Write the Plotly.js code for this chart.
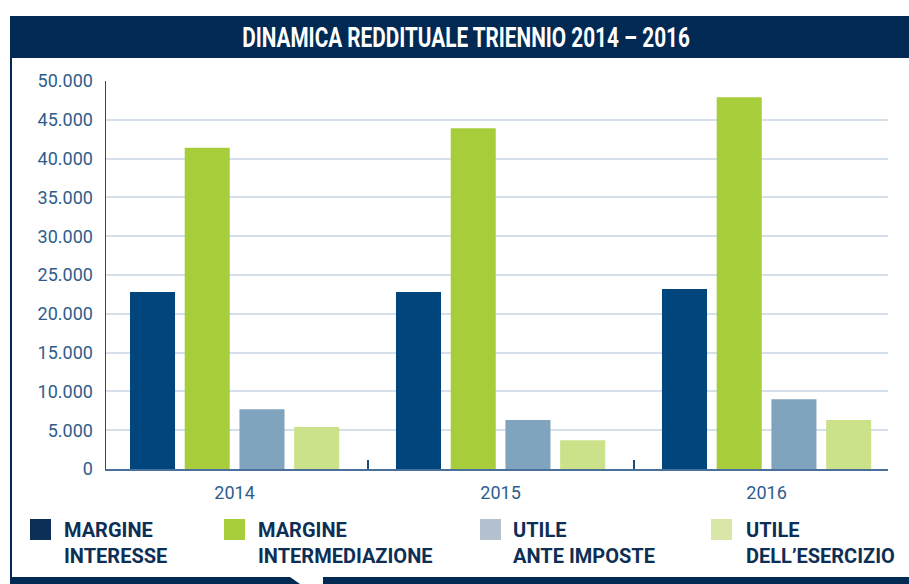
<!DOCTYPE html>
<html>
<head>
<meta charset="utf-8">
<script src="https://cdn.plot.ly/plotly-3.0.1.min.js"></script>
<style>
html,body{margin:0;padding:0;background:#fff;}
#chart{width:909px;height:584px;}
</style>
</head>
<body>
<div id="chart"></div>
<script>
// ---- data ----
const years = ['2014', '2015', '2016'];
const seriesNames = ['MARGINE<br>INTERESSE', 'MARGINE<br>INTERMEDIAZIONE', 'UTILE<br>ANTE IMPOSTE', "UTILE<br>DELL’ESERCIZIO"];
const margineInteresse = [22800, 22800, 23200];
const margineIntermediazione = [41400, 43900, 47900];
const utileAnteImposte = [7700, 6300, 9000];
const utileEsercizio = [5400, 3700, 6300];
const yTickVals = [0, 5000, 10000, 15000, 20000, 25000, 30000, 35000, 40000, 45000, 50000];
const chartTitle = 'DINAMICA REDDITUALE TRIENNIO 2014 – 2016';

// ---- styles ----
const barColors = ['#00467c', '#a8cd3b', '#80a3be', '#cbe28a'];
const legendColors = ['#0b2f57', '#a8cd3b', '#b2c1cd', '#d8e7a8'];
const navy = '#002a54';
const tickColor = '#2e5d8c';

const W = 909, H = 584;
const L = 106, R = 888, T = 81, B = 469;
const px = x => (x - L) / (R - L);
const py = y => (B - y) / (B - T);

const allSeries = [margineInteresse, margineIntermediazione, utileAnteImposte, utileEsercizio];
const traces = allSeries.map((vals, i) => ({
  type: 'bar',
  x: years,
  y: vals,
  name: seriesNames[i],
  marker: {color: barColors[i], line: {width: 0}},
  hoverinfo: 'y'
}));

const shapes = [
  {type: 'rect', xref: 'paper', yref: 'paper', x0: px(10), x1: px(909), y0: py(58), y1: py(16), fillcolor: navy, line: {width: 0}, layer: 'below'},
  {type: 'line', xref: 'paper', yref: 'paper', x0: px(11), x1: px(11), y0: py(58), y1: py(578), line: {color: navy, width: 2}},
  {type: 'path', xref: 'paper', yref: 'paper',
   path: `M ${px(10)},${py(577)} L ${px(290)},${py(577)} L ${px(300)},${py(584)} L ${px(10)},${py(584)} Z`,
   fillcolor: navy, line: {width: 0}},
  {type: 'rect', xref: 'paper', yref: 'paper', x0: px(323), x1: px(909), y0: py(584), y1: py(577), fillcolor: navy, line: {width: 0}}
];

const legendSquareX = [30, 224, 480, 711];
const legendTextX = [62, 256, 511, 744];
const annotations = [];
seriesNames.forEach((n, i) => {
  shapes.push({type: 'rect', xref: 'paper', yref: 'paper',
    x0: px(legendSquareX[i]), x1: px(legendSquareX[i] + 21), y0: py(540), y1: py(519),
    fillcolor: legendColors[i], line: {width: 0}});
  annotations.push({xref: 'paper', yref: 'paper', x: px(legendTextX[i]), y: py(516),
    xanchor: 'left', yanchor: 'top', align: 'left', showarrow: false, text: n,
    font: {family: 'Roboto, sans-serif', size: 20, color: '#0d2f55', weight: 'bold'}});
});

const layout = {
  width: W, height: H,
  margin: {l: L, r: W - R, t: T, b: H - B, pad: 0},
  paper_bgcolor: 'rgba(0,0,0,0)',
  plot_bgcolor: 'rgba(0,0,0,0)',
  showlegend: false,
  barmode: 'group',
  bargap: 0.177,
  bargroupgap: 0.177,
  title: {text: chartTitle, xref: 'container', yref: 'container', x: 466 / W, y: 1 - 37 / H,
    xanchor: 'center', yanchor: 'middle',
    font: {family: 'Roboto, sans-serif', size: 28, color: '#ffffff', weight: 'bold'}},
  xaxis: {
    type: 'category', range: [-0.4835, 2.4565],
    showgrid: false, zeroline: false,
    showline: true, linecolor: '#4a6f9b', linewidth: 2,
    ticks: 'inside', tickson: 'boundaries', ticklen: 9, tickcolor: '#1f4e7e', tickwidth: 2,
    ticklabelstandoff: 6,
    tickfont: {family: 'Roboto, sans-serif', size: 18, color: tickColor}
  },
  yaxis: {
    range: [0, 50000], tickvals: yTickVals, tickformat: ',d',
    showgrid: true, gridcolor: '#d6e0ea', gridwidth: 2,
    zeroline: false,
    showline: true, linecolor: '#1f4e7e', linewidth: 1.5,
    ticks: '', ticklabelstandoff: 8,
    tickfont: {family: 'Roboto, sans-serif', size: 18, color: tickColor}
  },
  separators: ',.',
  shapes: shapes,
  annotations: annotations
};

Plotly.newPlot('chart', traces, layout, {displayModeBar: false, staticPlot: true}).then(gd => {
  // condense the title horizontally (DIN Condensed look)
  const t = gd.querySelector('.gtitle');
  if (t) {
    const bb = t.getBBox();
    const cx = bb.x + bb.width / 2;
    const target = 448;
    const s = Math.min(1, target / bb.width);
    t.setAttribute('transform', `translate(${cx},0) scale(${s},1) translate(${-cx},0)`);
  }
});
</script>
</body>
</html>
